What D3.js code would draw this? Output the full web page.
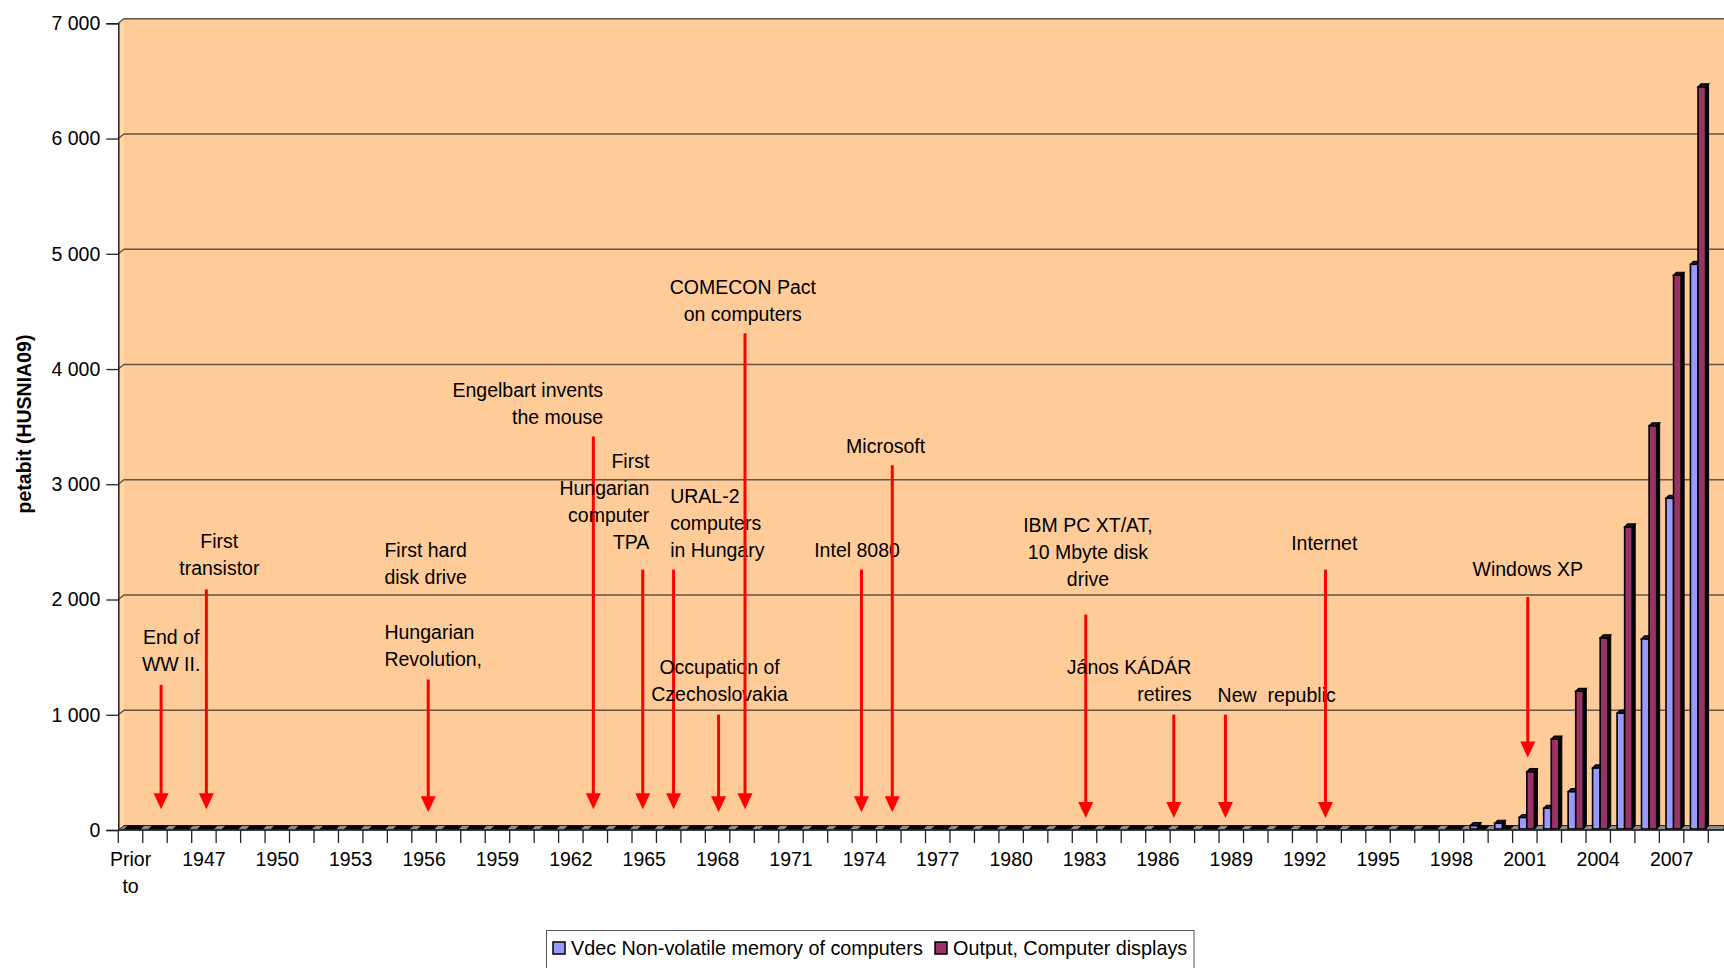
<!DOCTYPE html>
<html><head><meta charset="utf-8">
<script src="https://cdn.jsdelivr.net/npm/d3@7"></script>
<style>
body{margin:0;background:#fff;}
svg{display:block;font-family:"Liberation Sans",Arial,sans-serif;}
</style>
</head><body>
<svg id="chart" width="1724" height="968"></svg>
<script>
// ---------------- DATA ----------------
const categories = ["Prior to",
 "1945","1946","1947","1948","1949","1950","1951","1952","1953","1954",
 "1955","1956","1957","1958","1959","1960","1961","1962","1963","1964",
 "1965","1966","1967","1968","1969","1970","1971","1972","1973","1974",
 "1975","1976","1977","1978","1979","1980","1981","1982","1983","1984",
 "1985","1986","1987","1988","1989","1990","1991","1992","1993","1994",
 "1995","1996","1997","1998","1999","2000","2001","2002","2003","2004",
 "2005","2006","2007","2008"];

const vdecValues = [0,
 0,0,0,0,0,0,0,0,0,0,
 0,0,0,0,0,0,0,0,0,0,
 0,0,0,0,0,0,0,0,0,0,
 0,0,0,0,0,0,0,0,0,0,
 0,0,0,0,0,0,0,0,0,0,
 0,0,0,0,30,50,100,180,324,530,
 1005,1650,2870,4900];

const outputValues = [0,
 0,0,0,0,0,0,0,0,0,0,
 0,0,0,0,0,0,0,0,0,0,
 0,0,0,0,0,0,0,0,0,0,
 0,0,0,0,0,0,0,0,0,0,
 0,0,0,0,0,0,0,0,0,0,
 0,0,0,0,0,0,497,780,1195,1659,
 2621,3499,4805,6440];

const seriesNames = ["Vdec Non-volatile memory of computers", "Output, Computer displays"];
const yTickValues = [0,1000,2000,3000,4000,5000,6000,7000];
const yTickLabels = ["0","1 000","2 000","3 000","4 000","5 000","6 000","7 000"];
const xTickLabels = ["Prior to","1947","1950","1953","1956","1959","1962","1965","1968",
 "1971","1974","1977","1980","1983","1986","1989","1992","1995","1998","2001","2004","2007"];
const yTitle = "petabit (HUSNIA09)";

// event annotations: year position of arrow, arrow top/tip values, text anchor & position
const annotations = [
 {lines:["End of","WW II."], anchor:"middle", tx:1945.66, tv:1669, ax:1945.25, top:1259, tip:181},
 {lines:["First","transistor"], anchor:"middle", tx:1947.63, tv:2508, ax:1947.1, top:2088, tip:181},
 {lines:["First hard","disk drive"], anchor:"start", tx:1954.38, tv:2432, ax:null},
 {lines:["Hungarian","Revolution,"], anchor:"start", tx:1954.38, tv:1717, ax:1956.17, top:1306, tip:153},
 {lines:["Engelbart invents","the mouse"], anchor:"end", tx:1963.32, tv:3815, ax:1962.92, top:3414, tip:181},
 {lines:["First","Hungarian","computer","TPA"], anchor:"end", tx:1965.21, tv:3204, ax:1964.94, top:2260, tip:181},
 {lines:["URAL-2","computers","in Hungary"], anchor:"start", tx:1966.06, tv:2899, ax:1966.2, top:2260, tip:181},
 {lines:["Occupation of","Czechoslovakia"], anchor:"middle", tx:1968.08, tv:1411, ax:1968.04, top:1001, tip:153},
 {lines:["COMECON Pact","on computers"], anchor:"middle", tx:1969.03, tv:4711, ax:1969.12, top:4310, tip:181},
 {lines:["Intel 8080"], anchor:"middle", tx:1973.7, tv:2432, ax:1973.88, top:2260, tip:153},
 {lines:["Microsoft"], anchor:"middle", tx:1974.87, tv:3328, ax:1975.14, top:3166, tip:153},
 {lines:["IBM PC XT/AT,","10 Mbyte disk","drive"], anchor:"middle", tx:1983.14, tv:2642, ax:1983.05, top:1869, tip:105},
 {lines:["János KÁDÁR","retires"], anchor:"end", tx:1987.37, tv:1411, ax:1986.65, top:1001, tip:105},
 {lines:["New  republic"], anchor:"start", tx:1988.44, tv:1173, ax:1988.76, top:1001, tip:105},
 {lines:["Internet"], anchor:"middle", tx:1992.8, tv:2489, ax:1992.85, top:2260, tip:105},
 {lines:["Windows XP"], anchor:"middle", tx:2001.12, tv:2260, ax:2001.12, top:2022, tip:629}
];

// ---------------- LAYOUT ----------------
const W = 1724, H = 968;
const x0 = 118.3, x1 = 1708.3, yTop = 23.3, yBot = 830;
const dX = 5.7, dY = 4.5;      // wall depth
const bd = 3;                   // bar depth
const fontSize = 19.5;
const colors = ["#9999FF", "#993366"];
const darkColors = ["#1a1a33", "#260d1a"];

const svg = d3.select("#chart");
const x = d3.scaleBand().domain(categories).range([x0, x1]).paddingInner(0).paddingOuter(0);
const bw = x.bandwidth();
const y = d3.scaleLinear().domain([0, 7000]).range([yBot, yTop]);
const xYear = d3.scaleLinear().domain([1943.5, 2008.5]).range([x0, x1]);

// back wall
svg.append("rect").attr("x", x0 + dX).attr("y", y(7000) - dY)
  .attr("width", W - x0 - dX).attr("height", yBot - y(7000))
  .attr("fill", "#FFCC99");
// left side wall
svg.append("polygon")
  .attr("points", [[x0, yBot], [x0, y(7000)], [x0 + dX, y(7000) - dY], [x0 + dX, yBot - dY]].join(" "))
  .attr("fill", "#FFD6AA");

// gridlines
svg.append("g").selectAll("path").data(yTickValues.filter(v => v > 0)).join("path")
  .attr("d", v => `M${x0},${y(v)}L${x0 + dX},${y(v) - dY}L${W},${y(v) - dY}`)
  .attr("fill", "none").attr("stroke", "#5e544a").attr("stroke-width", 1.4);

// floor
svg.append("polygon")
  .attr("points", [[x0, yBot], [W, yBot], [W, yBot - dY], [x0 + dX, yBot - dY]].join(" "))
  .attr("fill", "#8c8c8c").attr("stroke", "#222").attr("stroke-width", 1);

// bars
const bars = [];
categories.forEach((c, i) => {
  [vdecValues[i], outputValues[i]].forEach((v, s) => bars.push({c, s, v}));
});
const gBars = svg.append("g");
bars.forEach(b => {
  const fx = x(b.c) + bw * 0.27 + b.s * bw * 0.31;
  const fw = bw * 0.31;
  const top = y(b.v) - 1, bot = yBot - 1;
  const g = gBars.append("g");
  if (b.v > 0) {
    g.append("polygon")
      .attr("points", [[fx + fw, top], [fx + fw + bd, top - bd], [fx + fw + bd, bot - bd], [fx + fw, bot]].join(" "))
      .attr("fill", "#000").attr("stroke", "#000").attr("stroke-width", 1);
    g.append("rect").attr("x", fx).attr("y", top).attr("width", fw).attr("height", bot - top)
      .attr("fill", colors[b.s]).attr("stroke", "#000").attr("stroke-width", 1.6);
  }
  g.append("polygon")
    .attr("points", [[fx, top], [fx + bd, top - bd], [fx + fw + bd, top - bd], [fx + fw, top]].join(" "))
    .attr("fill", b.v > 0 ? darkColors[b.s] : "#000").attr("stroke", "#000").attr("stroke-width", 1.2);
});

// y axis
const yAxis = d3.axisLeft(y).tickValues(yTickValues)
  .tickFormat((d, i) => yTickLabels[i]).tickSize(12).tickPadding(6);
const gy = svg.append("g").attr("transform", `translate(${x0},0)`).call(yAxis);
gy.select(".domain").attr("stroke", "#222").attr("stroke-width", 1.5);
gy.selectAll(".tick line").attr("stroke", "#222").attr("stroke-width", 1.3);
gy.selectAll("text").attr("font-size", fontSize).attr("fill", "#000")
  .attr("font-family", "Liberation Sans, Arial, sans-serif");

// x axis line and ticks at band boundaries
svg.append("line").attr("x1", x0).attr("x2", W).attr("y1", yBot).attr("y2", yBot)
  .attr("stroke", "#222").attr("stroke-width", 1.5);
svg.append("g").selectAll("line").data(d3.range(categories.length + 1)).join("line")
  .attr("x1", i => x0 + i * bw).attr("x2", i => x0 + i * bw)
  .attr("y1", yBot).attr("y2", yBot + 13)
  .attr("stroke", "#222").attr("stroke-width", 1.3);

// x labels through the axis
const xAxis = d3.axisBottom(x).tickValues(xTickLabels).tickSize(0).tickPadding(0);
const gx = svg.append("g").attr("transform", `translate(0,${yBot})`).call(xAxis);
gx.select(".domain").remove();
gx.selectAll("text").attr("font-size", fontSize).attr("fill", "#000")
  .attr("font-family", "Liberation Sans, Arial, sans-serif")
  .attr("y", 36).attr("dy", 0)
  .each(function(d) {
    const parts = d.split(" ");
    const t = d3.select(this).text(null);
    parts.forEach((p, k) => t.append("tspan").attr("x", 0).attr("y", 36 + k * 27).text(p));
  });

// y title
svg.append("text").attr("transform", `translate(24,${424}) rotate(-90)`)
  .attr("text-anchor", "middle").attr("dy", "0.35em")
  .attr("font-weight", "bold").attr("font-size", 19.5).text(yTitle);

// annotations
const gA = svg.append("g");
annotations.forEach(a => {
  const t = gA.append("text").attr("text-anchor", a.anchor).attr("font-size", fontSize)
    .attr("fill", "#000").style("white-space", "pre");
  a.lines.forEach((ln, k) => {
    t.append("tspan").attr("x", xYear(a.tx)).attr("y", y(a.tv) + k * 27).attr("dy", "0.35em").text(ln);
  });
  if (a.ax !== null) {
    const ax = xYear(a.ax), yt = y(a.top), yp = y(a.tip);
    gA.append("line").attr("x1", ax).attr("x2", ax).attr("y1", yt).attr("y2", yp - 12)
      .attr("stroke", "#FF0000").attr("stroke-width", 3);
    gA.append("polygon").attr("points", [[ax - 7.5, yp - 16], [ax + 7.5, yp - 16], [ax, yp]].join(" "))
      .attr("fill", "#FF0000");
  }
});

// legend
const lg = svg.append("g");
lg.append("rect").attr("x", 546.5).attr("y", 930.5).attr("width", 647.5).attr("height", 60)
  .attr("fill", "#fff").attr("stroke", "#555").attr("stroke-width", 1);
const legX = [553, 935];
seriesNames.forEach((n, i) => {
  lg.append("rect").attr("x", legX[i]).attr("y", 942).attr("width", 12).attr("height", 12)
    .attr("fill", colors[i]).attr("stroke", "#000").attr("stroke-width", 1.5);
  lg.append("text").attr("x", legX[i] + 18).attr("y", 948).attr("dy", "0.35em")
    .attr("font-size", 19.8).attr("fill", "#000").text(n);
});
</script>
</body></html>
